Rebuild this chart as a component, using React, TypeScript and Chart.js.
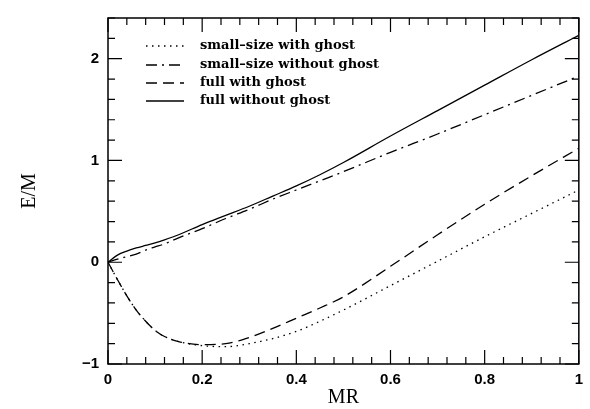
import React, { useEffect, useRef } from "react";
import { Chart, registerables } from "chart.js";
Chart.register(...registerables);

const mr = [0, 0.02, 0.04, 0.06, 0.08, 0.1, 0.12, 0.15, 0.2, 0.25, 0.3, 0.35, 0.4, 0.45, 0.5, 0.6, 0.7, 0.8, 0.9, 1.0];
const smallWithGhost = [0, -0.17, -0.33, -0.47, -0.58, -0.67, -0.73, -0.78, -0.82, -0.83, -0.8, -0.75, -0.68, -0.58, -0.47, -0.23, 0.01, 0.25, 0.48, 0.71];
const smallWithoutGhost = [0, 0.03, 0.055, 0.08, 0.12, 0.15, 0.18, 0.24, 0.33, 0.43, 0.52, 0.62, 0.71, 0.8, 0.89, 1.08, 1.26, 1.45, 1.64, 1.83];
const fullWithGhost = [0, -0.17, -0.33, -0.47, -0.58, -0.67, -0.73, -0.78, -0.81, -0.8, -0.74, -0.65, -0.55, -0.45, -0.34, -0.04, 0.27, 0.57, 0.85, 1.12];
const fullWithoutGhost = [0, 0.07, 0.11, 0.14, 0.165, 0.19, 0.22, 0.27, 0.37, 0.46, 0.55, 0.65, 0.75, 0.86, 0.98, 1.24, 1.49, 1.74, 1.99, 2.23];

const seriesLabels = ["small\u2013size with ghost", "small\u2013size without ghost", "full with ghost", "full without ghost"];
const seriesValues = [smallWithGhost, smallWithoutGhost, fullWithGhost, fullWithoutGhost];
const seriesDash = [[1.5, 4.5], [11, 5, 2, 5], [11, 6], []];

const xMin = 0, xMax = 1, yMin = -1, yMax = 2.4;

const framePlugin = {
  id: "frame",
  afterDraw(chart: any) {
    const { ctx, chartArea: a, scales } = chart;
    const xs = scales.x, ys = scales.y;
    ctx.save();
    ctx.strokeStyle = "#000";
    ctx.lineWidth = 1.5;
    ctx.strokeRect(a.left, a.top, a.right - a.left, a.bottom - a.top);
    ctx.lineWidth = 1.2;
    ctx.beginPath();
    for (let i = 0; i <= 25; i++) {
      const v = i * 0.04;
      const px = xs.getPixelForValue(v);
      const len = i % 5 === 0 ? 14 : 7;
      ctx.moveTo(px, a.bottom); ctx.lineTo(px, a.bottom - len);
      ctx.moveTo(px, a.top); ctx.lineTo(px, a.top + len);
    }
    for (let i = 0; i <= 17; i++) {
      const v = -1 + i * 0.2;
      const py = ys.getPixelForValue(v);
      const len = i % 5 === 0 ? 14 : 7;
      ctx.moveTo(a.left, py); ctx.lineTo(a.left + len, py);
      ctx.moveTo(a.right, py); ctx.lineTo(a.right - len, py);
    }
    ctx.stroke();

    // legend
    const rowY = [46, 65, 83, 101];
    ctx.font = "bold 13px 'DejaVu Serif'";
    ctx.textBaseline = "middle";
    ctx.fillStyle = "#000";
    chart.data.datasets.forEach((ds: any, i: number) => {
      const y = rowY[i];
      ctx.beginPath();
      ctx.lineWidth = 1.3;
      ctx.setLineDash(ds.borderDash || []);
      ctx.moveTo(146, y); ctx.lineTo(184, y);
      ctx.stroke();
      ctx.setLineDash([]);
      ctx.fillText(ds.label, 200, y);
    });
    ctx.restore();
  },
};

export default function App() {
  const ref = useRef<HTMLCanvasElement>(null);
  useEffect(() => {
    const canvas = ref.current!;
    const chart = new Chart(canvas, {
      type: "line",
      data: {
        datasets: seriesLabels.map((label, k) => ({
          label,
          data: mr.map((x, i) => ({ x, y: seriesValues[k][i] })),
          borderColor: "#000",
          borderWidth: 1.3,
          borderDash: seriesDash[k],
          pointRadius: 0,
          fill: false,
          cubicInterpolationMode: "monotone" as const,
        })),
      },
      options: {
        animation: false,
        responsive: true,
        maintainAspectRatio: false,
        layout: { padding: { top: 15, right: 3, bottom: 0, left: 0 } },
        plugins: { legend: { display: false }, tooltip: { enabled: false } },
        scales: {
          x: {
            type: "linear",
            min: xMin,
            max: xMax,
            grid: { display: false, drawTicks: false },
            border: { display: false },
            ticks: {
              stepSize: 0.2,
              padding: 7,
              color: "#000",
              font: { family: "'Liberation Sans'", weight: "bold", size: 15 },
              maxRotation: 0,
              callback: (v: any) => (v === 0 ? "0" : v === 1 ? "1" : Number(v).toFixed(1)),
            },
            title: {
              display: true,
              text: "MR",
              color: "#000",
              font: { family: "'Liberation Serif'", size: 20 },
              padding: { top: 0, bottom: -1 },
            },
            afterFit: (s: any) => { s.height = 45; },
          },
          y: {
            type: "linear",
            min: yMin,
            max: yMax,
            grid: { display: false, drawTicks: false },
            border: { display: false },
            ticks: {
              stepSize: 1,
              includeBounds: false,
              padding: 9,
              color: "#000",
              font: { family: "'Liberation Sans'", weight: "bold", size: 15 },
              callback: (v: any) => (v < 0 ? "\u2212" + Math.abs(v) : String(v)),
            },
            title: {
              display: true,
              text: "E/M",
              color: "#000",
              font: { family: "'Liberation Serif'", size: 20 },
              padding: { top: 18, bottom: 0 },
            },
            afterFit: (s: any) => { s.width = 108; },
          },
        },
      },
      plugins: [framePlugin],
    });
    return () => chart.destroy();
  }, []);
  return (
    <div style={{ position: "absolute", left: 0, top: 0, width: 590, height: 409, background: "#fff" }}>
      <canvas ref={ref} />
    </div>
  );
}
